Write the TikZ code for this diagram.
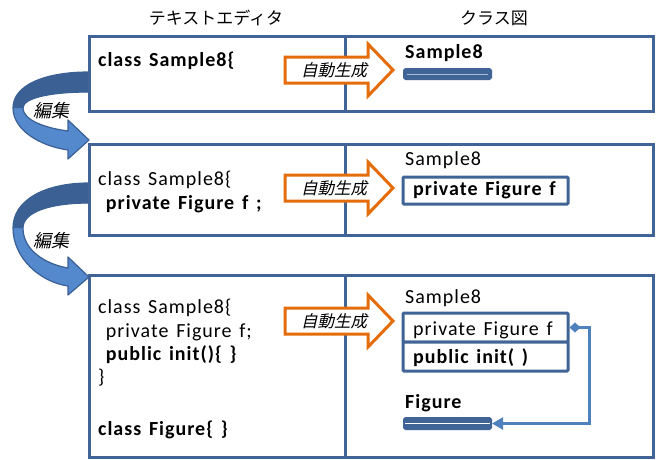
\documentclass[tikz,border=0pt]{standalone}
\usepackage{fontspec}
\setmainfont{Carlito}[LetterSpace=5,WordSpace=1.4]
\newfontfamily\jp{Noto Sans CJK JP}
\newfontfamily\jpit{Noto Sans CJK JP}[FakeSlant=0.22]
\usetikzlibrary{fit,arrows.meta}
\definecolor{frame}{RGB}{64,100,150}
\definecolor{gen}{RGB}{228,108,10}
\definecolor{link}{RGB}{79,129,189}
\definecolor{ribbondark}{RGB}{58,96,148}
\definecolor{ribbonlight}{RGB}{84,137,205}
\definecolor{barline}{RGB}{170,190,215}
\tikzset{
  panel/.style={draw=frame, line width=3pt, fill=white, inner sep=0pt},
  classbox/.style={draw=frame, line width=3pt, fill=white, inner sep=0pt, rounded corners=1pt},
  bar/.style={draw=frame, line width=2pt, fill=frame, inner sep=0pt, rounded corners=1.5pt},
  code/.style={anchor=base west, inner sep=0pt, font=\fontsize{20}{24}\selectfont},
  codeb/.style={code, font=\fontsize{20}{24}\selectfont\bfseries},
  title/.style={inner sep=0pt, font=\jp\fontsize{17}{20}\selectfont},
  genlabel/.style={inner sep=0pt, font=\jpit\fontsize{16.5}{20}\selectfont},
  editlabel/.style={inner sep=0pt, font=\jpit\fontsize{18}{22}\selectfont},
  genarrow/.style={draw=gen, line width=3pt, fill=white, line join=miter},
  ribbon/.style={fill=ribbonlight, draw=ribbondark, line width=1.2pt, line join=round},
  ribbontop/.style={fill=ribbondark},
  assoc/.style={draw=link, line width=2.2pt,
    {Diamond[length=11pt,width=10pt]}-{Triangle[length=11pt,width=12pt]}}
}
\begin{document}
\begin{tikzpicture}[x=1pt,y=-1pt]
\useasboundingbox (0,0) rectangle (659,459);

% column headings
\node[title] (hEdit) at (216,18) {テキストエディタ};
\node[title] (hClass) at (494,18) {クラス図};

% "edit" ribbons between the editor panels
\path[ribbon] (89,72) .. controls (45,72) and (13,85) .. (13,108)
  .. controls (13,130) and (40,146) .. (68,150) -- (68,159) -- (89,140)
  -- (68,120) -- (68,131) .. controls (45,128) and (23,120) .. (23,108)
  .. controls (23,98) and (50,92) .. (89,92) -- cycle;
\path[ribbontop] (89,72) .. controls (45,72) and (13,85) .. (13,108)
  -- (23,108) .. controls (23,98) and (50,92) .. (89,92) -- cycle;
\path[ribbon] (89,183) .. controls (45,183) and (13,200) .. (13,228)
  .. controls (13,258) and (40,282) .. (68,286) -- (68,295) -- (89,277)
  -- (68,257) -- (68,268) .. controls (45,264) and (23,250) .. (23,228)
  .. controls (23,212) and (50,203) .. (89,203) -- cycle;
\path[ribbontop] (89,183) .. controls (45,183) and (13,200) .. (13,228)
  -- (23,228) .. controls (23,212) and (50,203) .. (89,203) -- cycle;
\node[editlabel] (ed1) at (52,111) {編集};
\node[editlabel] (ed2) at (52,241) {編集};

% editor panels
\node[panel, fit={(89,36) (345,111)}] (e1) {};
\node[panel, fit={(89,144) (345,235)}] (e2) {};
\node[panel, fit={(89,275) (345,457)}] (e3) {};
% class diagram panels
\node[panel, fit={(345,36) (653,111)}] (d1) {};
\node[panel, fit={(345,144) (653,235)}] (d2) {};
\node[panel, fit={(345,275) (653,457)}] (d3) {};

% source code
\node[codeb] (s1a) at (98,66) {class Sample8\{};
\node[code]  (s2a) at (98,185) {class Sample8\{};
\node[codeb] (s2b) at (98,209) {\ private Figure f ;};
\node[code]  (s3a) at (98,313) {class Sample8\{};
\node[code]  (s3b) at (98,337) {\ private Figure f;};
\node[codeb] (s3c) at (98,360) {\ public init()\{ \}};
\node[code]  (s3d) at (98,383) {\}};
\node[codeb] (s3e) at (98,435) {class Figure\{ \}};

% automatic generation arrows
\foreach \c/\n in {70/g1,188/g2,321/g3}{
  \path[genarrow] (285,\c-13) -- (368,\c-13) -- (368,\c-26) -- (393,\c)
    -- (368,\c+26) -- (368,\c+13) -- (285,\c+13) -- cycle;
  \node[genlabel] (\n) at (334,\c) {自動生成};
}

% class diagram, step 1
\node[codeb] (k1) at (405,58) {Sample8};
\node[bar, fit={(404,69) (491,79)}] (k1bar) {};
\draw[barline, line width=0.8pt] ([xshift=4pt]k1bar.west) -- ([xshift=-4pt]k1bar.east);

% class diagram, step 2
\node[code] (k2) at (405,165) {Sample8};
\node[classbox, fit={(403,177) (568,204)}] (k2attr) {};
\node[codeb] (k2t) at (413,195) {private Figure f};

% class diagram, step 3
\node[code] (k3) at (405,303) {Sample8};
\node[classbox, fit={(403,313) (568,342)}] (k3attr) {};
\node[classbox, fit={(403,342) (568,371)}] (k3op) {};
\node[code]  (k3t) at (413,335) {private Figure f};
\node[codeb] (k3u) at (413,363) {public init( )};
\node[codeb] (kf) at (405,408) {Figure};
\node[bar, fit={(404,418) (491,429)}] (kfbar) {};
\draw[white, line width=1.2pt] ([xshift=2pt]kfbar.west) -- ([xshift=-2pt]kfbar.east);

% association from the attribute to class Figure
\draw[assoc] (k3attr.east) -- ++(20,0) |- (kfbar.east);
\end{tikzpicture}
\end{document}
